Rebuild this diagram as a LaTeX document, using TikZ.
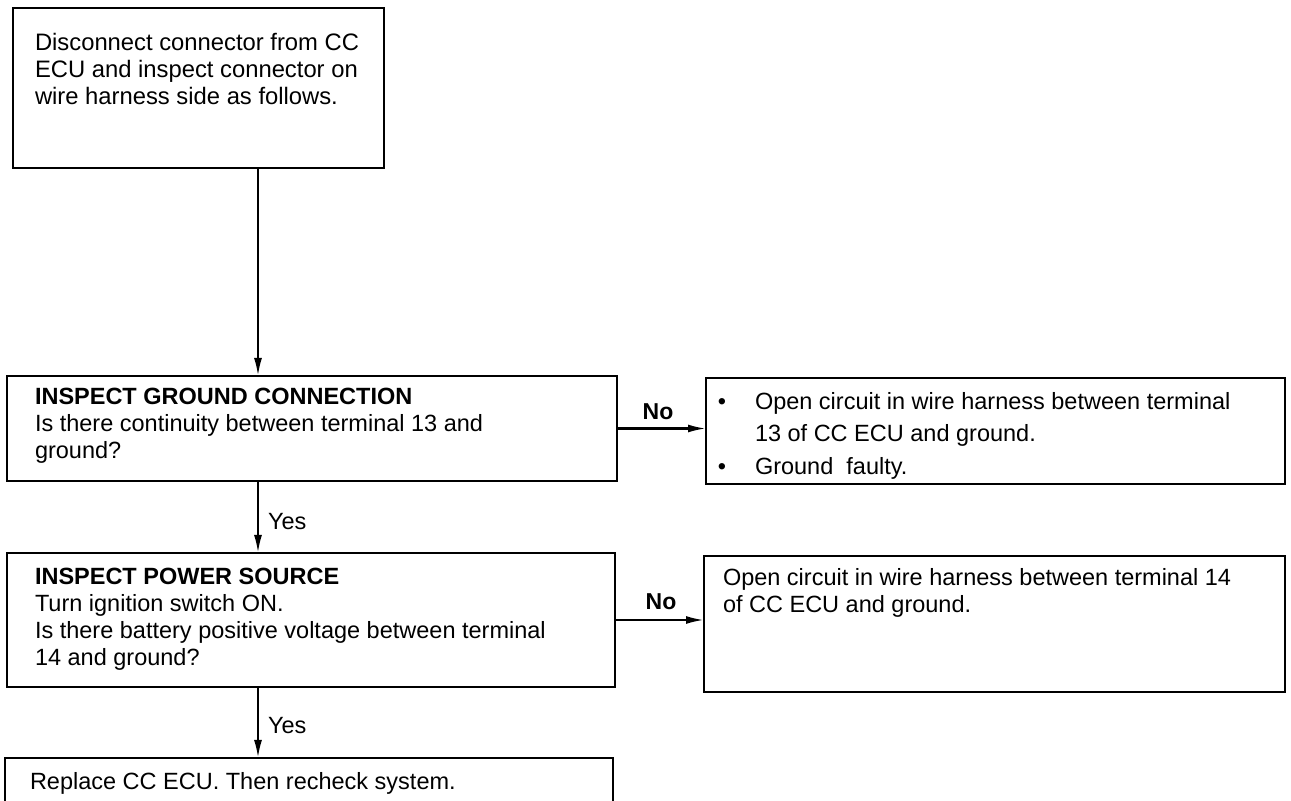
\documentclass[tikz,border=0pt]{standalone}
\usepackage{fontspec}
\setmainfont{Liberation Sans}
\usetikzlibrary{arrows.meta}
\tikzset{
  box/.style={draw, line width=1.4pt, inner sep=0pt, outer sep=0pt, anchor=north west},
  txt/.style={inner sep=0pt, outer sep=0pt, anchor=north west, align=left,
    font=\fontsize{11.75pt}{13.5pt}\selectfont},
  lbl/.style={inner sep=0pt, outer sep=0pt, anchor=north west,
    font=\fontsize{11.75pt}{13.5pt}\selectfont},
  nolbl/.style={inner sep=0pt, outer sep=0pt,
    font=\fontsize{11.5pt}{13pt}\selectfont\bfseries},
  conn/.style={line width=1.1pt, -{Latex[length=9pt,width=4pt]}}
}
\begin{document}
\begin{tikzpicture}[x=0.5pt,y=-0.5pt]
\useasboundingbox (0,0) rectangle (1291,801);
\clip (0,0) rectangle (1291,801);
% boxes
\node[box, minimum width=185.5pt, minimum height=80pt] (top) at (13,8) {};
\node[box, minimum width=305pt, minimum height=52.5pt] (gnd) at (7,376) {};
\node[box, minimum width=289.5pt, minimum height=53pt] (r1) at (706,378) {};
\node[box, minimum width=304pt, minimum height=67pt] (pwr) at (7,553) {};
\node[box, minimum width=290.5pt, minimum height=68pt] (r2) at (704,556) {};
\node[box, minimum width=304pt, minimum height=40pt] (fin) at (5,758) {};
% texts
\node[txt, font=\fontsize{11.9pt}{13.5pt}\selectfont] (toptxt) at (35,33) {Disconnect connector from CC\\ECU and inspect connector on\\wire harness side as follows.};
\node[txt] (gndtxt) at (35,388) {\textbf{INSPECT GROUND CONNECTION}\\Is there continuity between terminal 13 and\\ground?};
\node[txt, font=\fontsize{11.75pt}{16.25pt}\selectfont] (r1txt) at (755,392) {\makebox[0pt][r]{\textbullet\hspace{14.5pt}}Open circuit in wire harness between terminal\\13 of CC ECU and ground.\\\makebox[0pt][r]{\textbullet\hspace{14.5pt}}Ground\ \ faulty.};
\node[txt] (pwrtxt) at (35,568) {\textbf{INSPECT POWER SOURCE}\\Turn ignition switch ON.\\Is there battery positive voltage between terminal\\14 and ground?};
\node[txt] (r2txt) at (723,568) {Open circuit in wire harness between terminal 14\\of CC ECU and ground.};
\node[txt] (fintxt) at (30,772) {Replace CC ECU. Then recheck system.};
% connectors
\coordinate (spine) at (258,0);
\draw[conn] (top.south -| spine) -- (gnd.north -| spine);
\draw[conn] (gnd.south -| spine) -- (pwr.north -| spine);
\draw[conn] (pwr.south -| spine) -- (fin.north -| spine);
\draw[conn] (gnd.east) -- (gnd.east -| r1.west);
\draw[conn] (pwr.east) -- (pwr.east -| r2.west);
% labels
\node[lbl] (yes1) at (268,513) {Yes};
\node[lbl] (yes2) at (268,717) {Yes};
\node[nolbl] (no1) at (658,412) {No};
\node[nolbl] (no2) at (661,602) {No};
\end{tikzpicture}
\end{document}
